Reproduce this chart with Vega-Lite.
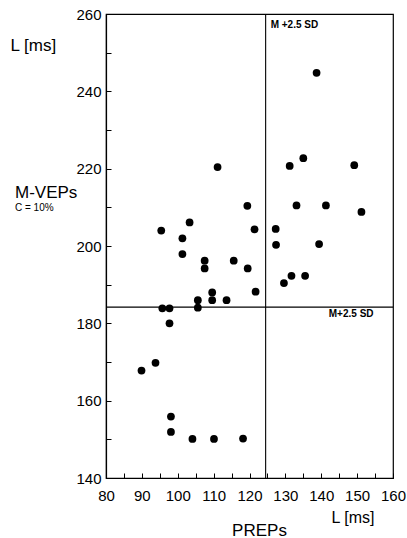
{
  "$schema": "https://vega.github.io/schema/vega-lite/v6.json",
  "width": 287,
  "height": 464,
  "autosize": {"type": "none"},
  "padding": {"left": 106, "top": 14, "right": 14, "bottom": 60},
  "background": "white",
  "config": {
    "view": {"stroke": "black", "strokeWidth": 1.2},
    "font": "Liberation Sans",
    "axis": {"grid": false, "domainColor": "black", "tickColor": "black", "labelColor": "black", "titleColor": "black", "labelFont": "Liberation Sans", "titleFont": "Liberation Sans", "titleFontWeight": "normal"}
  },
  "title": {"text": "M-VEPs", "subtitle": "C = 10%", "anchor": "start", "frame": "group", "orient": "top", "fontSize": 17, "fontWeight": "normal", "subtitleFontSize": 10, "dx": -91, "dy": 211, "color": "black", "subtitleColor": "black", "subtitlePadding": 1, "font": "Liberation Sans", "subtitleFont": "Liberation Sans"},
  "resolve": {"axis": {"x": "independent", "y": "independent"}},
  "layer": [
    {
      "data": {"values": [
        {"prep": 138.7, "mvep": 244.8},
        {"prep": 131.2, "mvep": 220.7},
        {"prep": 135.0, "mvep": 222.7},
        {"prep": 149.2, "mvep": 220.9},
        {"prep": 133.1, "mvep": 210.5},
        {"prep": 141.3, "mvep": 210.5},
        {"prep": 151.2, "mvep": 208.8},
        {"prep": 127.3, "mvep": 204.4},
        {"prep": 127.4, "mvep": 200.3},
        {"prep": 139.4, "mvep": 200.5},
        {"prep": 129.6, "mvep": 190.4},
        {"prep": 131.7, "mvep": 192.3},
        {"prep": 135.5, "mvep": 192.3},
        {"prep": 111.1, "mvep": 220.4},
        {"prep": 119.4, "mvep": 210.4},
        {"prep": 103.3, "mvep": 206.1},
        {"prep": 95.4, "mvep": 204.0},
        {"prep": 121.4, "mvep": 204.3},
        {"prep": 101.3, "mvep": 202.0},
        {"prep": 101.3, "mvep": 197.9},
        {"prep": 107.5, "mvep": 196.2},
        {"prep": 115.6, "mvep": 196.2},
        {"prep": 107.5, "mvep": 194.2},
        {"prep": 119.5, "mvep": 194.2},
        {"prep": 121.7, "mvep": 188.2},
        {"prep": 109.6, "mvep": 188.0},
        {"prep": 109.6, "mvep": 186.0},
        {"prep": 113.6, "mvep": 186.0},
        {"prep": 105.6, "mvep": 186.0},
        {"prep": 105.6, "mvep": 184.05},
        {"prep": 95.7, "mvep": 183.9},
        {"prep": 97.7, "mvep": 183.9},
        {"prep": 97.7, "mvep": 180.0},
        {"prep": 93.8, "mvep": 169.8},
        {"prep": 89.9, "mvep": 167.8},
        {"prep": 98.1, "mvep": 155.9},
        {"prep": 98.1, "mvep": 151.9},
        {"prep": 104.1, "mvep": 150.1},
        {"prep": 110.1, "mvep": 150.1},
        {"prep": 118.2, "mvep": 150.2}
      ]},
      "mark": {"type": "circle", "color": "black", "size": 60, "opacity": 1},
      "encoding": {
        "x": {"field": "prep", "type": "quantitative", "scale": {"domain": [80, 160], "nice": false, "zero": false},
          "axis": {"orient": "bottom", "values": [80,85,90,95,100,105,110,115,120,125,130,135,140,145,150,155,160], "labelExpr": "datum.value % 10 == 0 ? datum.label : ''", "tickSize": -5, "labelPadding": 15, "labelFontSize": 15, "labelFlush": false, "labelOverlap": false, "domainWidth": 1.2,
            "title": "PREPs", "titleFontSize": 17, "titleX": 153, "titleY": 52, "titleAlign": "center", "titleBaseline": "middle"}},
        "y": {"field": "mvep", "type": "quantitative", "scale": {"domain": [140, 260], "nice": false, "zero": false},
          "axis": {"orient": "left", "values": [140,150,160,170,180,190,200,210,220,230,240,250,260], "labelExpr": "datum.value % 20 == 0 ? datum.label : ''", "tickSize": -5, "labelPadding": 10, "labelFontSize": 15, "labelFlush": false, "labelOverlap": false, "domainWidth": 1.2,
            "title": "L [ms]", "titleFontSize": 17, "titleAngle": 0, "titleX": -96, "titleY": 31, "titleAlign": "left", "titleBaseline": "middle"}}
      }
    },
    {
      "data": {"values": [{"v": 124.5}]},
      "mark": {"type": "rule", "color": "black", "strokeWidth": 1.1},
      "encoding": {
        "x": {"field": "v", "type": "quantitative",
          "axis": {"orient": "top", "domain": false, "ticks": false, "labels": false, "title": "L [ms]", "titleFontSize": 16, "titleX": 225, "titleY": 503, "titleAlign": "left", "titleBaseline": "middle", "titleAngle": 0}}
      }
    },
    {
      "data": {"values": [{"h": 184.2}]},
      "mark": {"type": "rule", "color": "black", "strokeWidth": 1.1},
      "encoding": {
        "y": {"field": "h", "type": "quantitative", "axis": null}
      }
    },
    {
      "data": {"values": [
        {"label": "M +2.5 SD", "ax": 125.9, "ay": 257.2},
        {"label": "M+2.5 SD", "ax": 142.1, "ay": 182.4}
      ]},
      "mark": {"type": "text", "align": "left", "baseline": "middle", "fontSize": 10, "fontWeight": "bold", "color": "black", "font": "Liberation Sans"},
      "encoding": {
        "x": {"field": "ax", "type": "quantitative", "axis": null},
        "y": {"field": "ay", "type": "quantitative", "axis": null},
        "text": {"field": "label"}
      }
    }
  ]
}
